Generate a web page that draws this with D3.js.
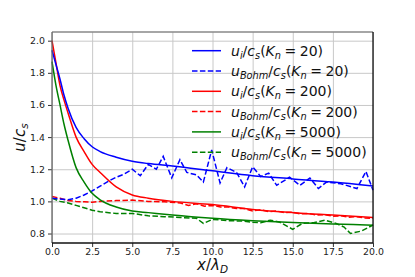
<!DOCTYPE html>
<html>
<head>
<meta charset="utf-8">
<script src="https://cdn.jsdelivr.net/npm/d3@7.9.0/dist/d3.min.js"></script>
<style>
  body { margin: 0; background: #fff; }
  svg { display: block; font-family: "DejaVu Sans", sans-serif; }
</style>
</head>
<body>
<svg id="chart" width="415" height="277"></svg>
<script>
// grid of x positions for the smooth (solid) curves
const xSmooth = [0, 0.25, 0.5, 0.75, 1, 1.5, 2, 2.5, 3, 4, 5, 6, 7.5, 10, 12.5, 15, 17.5, 20];
const uiKn20   = [1.94, 1.85, 1.76, 1.66, 1.58, 1.46, 1.39, 1.34, 1.31, 1.275, 1.25, 1.235, 1.22, 1.19, 1.16, 1.14, 1.12, 1.095];
const uiKn200  = [2.0, 1.86, 1.72, 1.63, 1.55, 1.40, 1.31, 1.23, 1.18, 1.09, 1.04, 1.02, 1.0, 0.98, 0.95, 0.93, 0.915, 0.90];
const uiKn5000 = [1.87, 1.72, 1.60, 1.48, 1.38, 1.21, 1.12, 1.05, 1.01, 0.965, 0.94, 0.93, 0.915, 0.895, 0.88, 0.868, 0.86, 0.852];

// noisy Bohm-speed series, [x, value]
const bohmKn20 = [
  [0, 1.02], [0.5, 1.015], [1, 1.01], [1.5, 1.02], [2, 1.04], [2.5, 1.065], [3, 1.095], [3.5, 1.125],
  [4, 1.15], [4.5, 1.17], [5, 1.2], [5.5, 1.16], [6, 1.23], [6.5, 1.2], [6.93, 1.28], [7.46, 1.146],
  [7.97, 1.26], [8.4, 1.18], [9.0, 1.165], [9.43, 1.12], [9.95, 1.32], [10.47, 1.115], [10.9, 1.21],
  [11.5, 1.18], [12.0, 1.09], [12.5, 1.215], [13, 1.155], [13.5, 1.176], [14, 1.10], [14.8, 1.15],
  [15.45, 1.10], [16.07, 1.145], [16.6, 1.08], [17.1, 1.12], [18, 1.11], [19, 1.08], [19.56, 1.186], [20, 1.07]
];
const bohmKn200 = [
  [0, 1.03], [0.5, 1.02], [1, 1.005], [1.5, 1.0], [2, 0.997], [2.5, 0.995], [3, 1.0], [4, 1.005],
  [5, 1.008], [6, 1.0], [7, 0.997], [8, 0.99], [8.5, 0.975], [9, 0.985], [9.5, 0.97], [10, 0.975],
  [10.5, 0.965], [11, 0.965], [11.5, 0.955], [12, 0.955], [12.5, 0.94], [13, 0.948], [13.5, 0.937],
  [14, 0.94], [14.5, 0.93], [15, 0.932], [15.5, 0.922], [16, 0.925], [16.5, 0.915], [17, 0.918],
  [17.5, 0.908], [18, 0.91], [18.5, 0.902], [19, 0.905], [19.5, 0.897], [20, 0.895]
];
const bohmKn5000 = [
  [0, 1.02], [0.5, 1.0], [1, 0.99], [1.5, 0.975], [2, 0.96], [2.5, 0.945], [3, 0.935], [4, 0.925],
  [5, 0.925], [6, 0.91], [7, 0.905], [8, 0.9], [9, 0.895], [9.43, 0.863], [10, 0.888], [11, 0.88],
  [12, 0.877], [12.5, 0.87], [13, 0.867], [13.6, 0.883], [14.2, 0.87], [15, 0.826], [15.6, 0.863],
  [16.3, 0.867], [17, 0.883], [17.7, 0.863], [18.2, 0.84], [18.6, 0.80], [19.3, 0.816], [20, 0.853]
];

const xTicks = [0, 2.5, 5, 7.5, 10, 12.5, 15, 17.5, 20];
const yTicks = [0.8, 1.0, 1.2, 1.4, 1.6, 1.8, 2.0];

const kns = ['20', '200', '5000'];
const colors = ['#0000ff', '#ff0000', '#008000'];

const svg = d3.select('#chart');
const margin = { top: 32, right: 42, bottom: 34, left: 52 };
const width = 415, height = 277;

const x = d3.scaleLinear().domain([0, 20]).range([margin.left, width - margin.right]);
const y = d3.scaleLinear().domain([0.741, 2.054]).range([height - margin.bottom, margin.top]);

// gridlines
svg.append('g')
  .attr('transform', `translate(0, ${margin.top})`)
  .call(d3.axisBottom(x).tickValues(xTicks).tickFormat('').tickSize(height - margin.top - margin.bottom))
  .call(g => g.select('.domain').remove())
  .call(g => g.selectAll('line').attr('stroke', '#c8c8c8').attr('stroke-width', 1));
svg.append('g')
  .attr('transform', `translate(${margin.left}, 0)`)
  .call(d3.axisRight(y).tickValues(yTicks).tickFormat('').tickSize(width - margin.left - margin.right))
  .call(g => g.select('.domain').remove())
  .call(g => g.selectAll('line').attr('stroke', '#c8c8c8').attr('stroke-width', 1));

// curves
const smooth = d3.line().x(d => x(d[0])).y(d => y(d[1])).curve(d3.curveMonotoneX);
const jagged = d3.line().x(d => x(d[0])).y(d => y(d[1]));

const solids = [uiKn20, uiKn200, uiKn5000].map(vals => xSmooth.map((v, i) => [v, vals[i]]));
const dashes = [bohmKn20, bohmKn200, bohmKn5000];

const plot = svg.append('g');
[2, 1, 0].forEach(i => {
  plot.append('path').attr('d', jagged(dashes[i])).attr('fill', 'none')
    .attr('stroke', colors[i]).attr('stroke-width', 1.5).attr('stroke-dasharray', '5.5,2.4');
});
[2, 1, 0].forEach(i => {
  plot.append('path').attr('d', smooth(solids[i])).attr('fill', 'none')
    .attr('stroke', colors[i]).attr('stroke-width', 1.5);
});

// axes
const xAxis = svg.append('g')
  .attr('transform', `translate(0, ${height - margin.bottom})`)
  .call(d3.axisBottom(x).tickValues(xTicks).tickFormat(d3.format('.1f')).tickSize(4).tickPadding(1).tickSizeOuter(0));
const yAxis = svg.append('g')
  .attr('transform', `translate(${margin.left}, 0)`)
  .call(d3.axisLeft(y).tickValues(yTicks).tickFormat(d3.format('.1f')).tickSize(4).tickPadding(3).tickSizeOuter(0));
[xAxis, yAxis].forEach(g => {
  g.selectAll('.domain').remove();
  g.selectAll('line').attr('stroke', '#333');
  g.selectAll('text').attr('font-family', 'DejaVu Sans').attr('font-size', 9.4).attr('fill', '#222');
});

// spines
const [x0, x1] = x.range();
const [y1, y0] = y.range();
svg.append('line').attr('x1', x0).attr('x2', x1).attr('y1', y0).attr('y2', y0).attr('stroke', '#888').attr('stroke-width', 1.3);
svg.append('line').attr('x1', x0).attr('x2', x0).attr('y1', y0).attr('y2', y1).attr('stroke', '#666').attr('stroke-width', 1.3);
svg.append('line').attr('x1', x1).attr('x2', x1).attr('y1', y0).attr('y2', y1).attr('stroke', '#111').attr('stroke-width', 1.3);
svg.append('line').attr('x1', x0).attr('x2', x1).attr('y1', y1).attr('y2', y1).attr('stroke', '#111').attr('stroke-width', 1.3);

// mathtext-ish helper: parts are [text, kind], kind: 'i' italic, 'r' roman, 's' subscript italic
function mathText(sel, parts, size) {
  let sub = false;
  parts.forEach(([t, kind]) => {
    const ts = sel.append('tspan').text(t);
    if (kind === 's') {
      ts.attr('font-size', size * 0.7).attr('font-style', 'italic');
      if (!sub) ts.attr('dy', size * 0.22);
      sub = true;
    } else {
      ts.attr('font-size', size).attr('font-style', kind === 'i' ? 'italic' : 'normal');
      if (sub) ts.attr('dy', -size * 0.22);
      sub = false;
    }
  });
}

// axis labels
mathText(svg.append('text').attr('x', (x0 + x1) / 2).attr('y', 270).attr('text-anchor', 'middle').attr('fill', '#111'),
  [['x', 'i'], ['/', 'r'], ['λ', 'i'], ['D', 's']], 15);
mathText(svg.append('text').attr('transform', `translate(25, ${(y0 + y1) / 2}) rotate(-90)`).attr('text-anchor', 'middle').attr('fill', '#111'),
  [['u', 'i'], ['/', 'r'], ['c', 'i'], ['s', 's']], 15);

// legend
const legend = svg.append('g');
const rowH = 20.3;
kns.forEach((kn, i) => {
  [['i', 'solid'], ['Bohm', 'dash']].forEach(([subTxt, kind], j) => {
    const row = i * 2 + j;
    const ly = 50.7 + row * rowH;
    legend.append('line').attr('x1', 192).attr('x2', 221).attr('y1', ly).attr('y2', ly)
      .attr('stroke', colors[i]).attr('stroke-width', 1.5)
      .attr('stroke-dasharray', kind === 'dash' ? '5.5,2.4' : null);
    const t = legend.append('text').attr('x', 231).attr('y', ly + 5).attr('fill', '#111');
    mathText(t, [['u', 'i'], [subTxt, 's'], ['/', 'r'], ['c', 'i'], ['s', 's'], ['(', 'r'],
      ['K', 'i'], ['n', 's'], ['\u2005=\u2005', 'r'], [kn, 'r'], [')', 'r']], 14);
  });
});
</script>
</body>
</html>
